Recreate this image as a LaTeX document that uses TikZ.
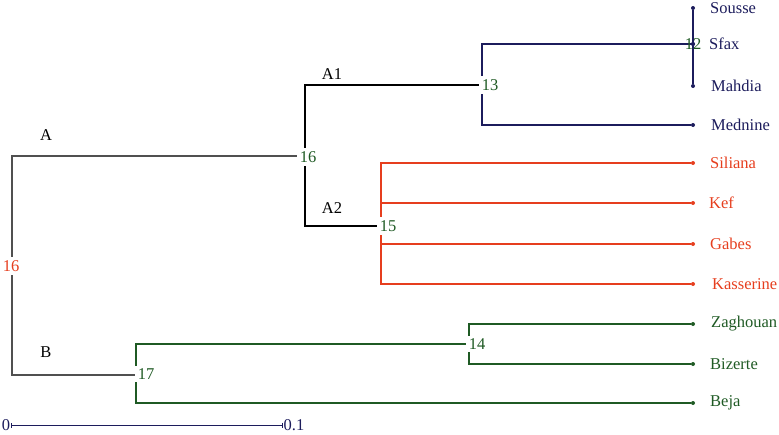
\documentclass[tikz,border=0pt]{standalone}
\usepackage{fontspec}
\setmainfont{Liberation Serif}
\usetikzlibrary{arrows.meta, positioning, calc}
\usepackage{xcolor}
\definecolor{clnavy}{HTML}{1C1C5C}
\definecolor{clred}{HTML}{E63E1E}
\definecolor{clgreen}{HTML}{1F5A24}
\definecolor{clgray}{HTML}{505050}

\begin{document}
\begin{tikzpicture}[
    x=1pt, y=-1pt,
    font=\fontsize{16.5}{19}\selectfont,
    branch/.style={line width=1.2pt},
    leafdot/.style={circle, fill, inner sep=0pt, minimum size=4pt},
    leaflab/.style={anchor=west, inner sep=0pt},
    numlab/.style={fill=white, inner sep=3pt, text=clgreen},
    grplab/.style={inner sep=0pt},
]
\useasboundingbox (0,0) rectangle (779,434);

% Leaves
\node[leafdot, clnavy] (sousse) at (693,8) {};
\node[leafdot, clnavy] (sfax) at (693,44) {};
\node[leafdot, clnavy] (mahdia) at (693,86) {};
\node[leafdot, clnavy] (mednine) at (693,125) {};
\node[leafdot, clred] (siliana) at (693,163) {};
\node[leafdot, clred] (kef) at (693,203) {};
\node[leafdot, clred] (gabes) at (693,244) {};
\node[leafdot, clred] (kasserine) at (693,284) {};
\node[leafdot, clgreen] (zaghouan) at (693,324) {};
\node[leafdot, clgreen] (bizerte) at (693,364) {};
\node[leafdot, clgreen] (beja) at (693,403) {};

\node[leaflab, text=clnavy] (sousseL) at (710,8) {Sousse};
\node[leaflab, text=clnavy] (sfaxL) at (709,44) {Sfax};
\node[leaflab, text=clnavy] (mahdiaL) at (711,86) {Mahdia};
\node[leaflab, text=clnavy] (mednineL) at (711,125) {Mednine};
\node[leaflab, text=clred] (silianaL) at (710,163) {Siliana};
\node[leaflab, text=clred] (kefL) at (709,203) {Kef};
\node[leaflab, text=clred] (gabesL) at (710,244) {Gabes};
\node[leaflab, text=clred] (kasserineL) at (712,284) {Kasserine};
\node[leaflab, text=clgreen] (zaghouanL) at (711,324) {Zaghouan};
\node[leaflab, text=clgreen] (bizerteL) at (710,364) {Bizerte};
\node[leaflab, text=clgreen] (bejaL) at (710,403) {Beja};

% Junctions
\coordinate (j12) at (693,44);
\coordinate (j13) at (482,85);
\coordinate (j16a) at (305,156);
\coordinate (j15) at (381,226);
\coordinate (root) at (12,267);
\coordinate (j14) at (469,344);
\coordinate (j17) at (136,375);

% Branches - cluster A1
\draw[branch, clnavy] (sousse) -- (mahdia);
\draw[branch, clnavy] (j12) -- (j12 -| j13) -- (mednine -| j13) -- (mednine);
% Branches - cluster A2
\draw[branch, clred] (siliana) -- (siliana -| j15) -- (kasserine -| j15) -- (kasserine);
\draw[branch, clred] (kef) -- (kef -| j15);
\draw[branch, clred] (gabes) -- (gabes -| j15);
% Branches - cluster B
\draw[branch, clgreen] (zaghouan) -- (zaghouan -| j14) -- (bizerte -| j14) -- (bizerte);
\draw[branch, clgreen] (j14) -- (j14 -| j17) -- (beja -| j17) -- (beja);
% Upper levels
\draw[branch, black] (j13) -- (j13 -| j16a) -- (j15 -| j16a) -- (j15);
\draw[branch, clgray] (j16a) -- (j16a -| root) -- (j17 -| root) -- (j17);

% Node numbers
\node[numlab, fill=none] (n12) at (693,44) {12};
\node[leafdot, clnavy] at (sfax) {};
\node[numlab] (n13) at (490,85) {13};
\node[numlab] (n16a) at (308,157) {16};
\node[numlab] (n15) at (388,226) {15};
\node[numlab, text=clred] (n16r) at (11,266) {16};
\node[numlab] (n14) at (477,344) {14};
\node[numlab] (n17) at (146,374) {17};

% Group labels
\node[grplab] (gA) at (46,135) {A};
\node[grplab] (gA1) at (332,74) {A1};
\node[grplab] (gA2) at (332,208) {A2};
\node[grplab] (gB) at (46,352) {B};

% Scale bar
\node[inner sep=1pt, text=clnavy] (s0) at (6,425) {0};
\node[inner sep=1pt, text=clnavy] (s1) at (294,425) {0.1};
\draw[clnavy, line width=0.9pt, {Bar[width=5pt]}-{Bar[width=5pt]}] (s0.east) -- (s1.west);

\end{tikzpicture}
\end{document}
